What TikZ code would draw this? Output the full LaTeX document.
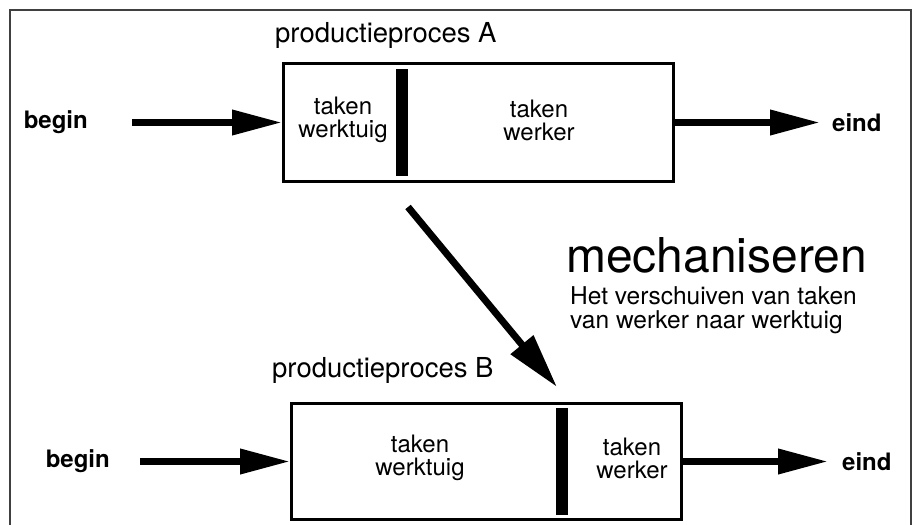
\documentclass[tikz,border=0pt]{standalone}
\usepackage{fontspec}
\setmainfont{TeX Gyre Heros}
\usetikzlibrary{arrows.meta,positioning}

\tikzset{
  procbox/.style={draw, line width=3pt, minimum width=390pt, minimum height=118pt, inner sep=0pt},
  divider/.style={fill=black, minimum width=12pt, minimum height=107pt, inner sep=0pt},
  tasks/.style={align=center, inner sep=0pt, font=\fontsize{24}{23}\selectfont},
  endpoint/.style={inner sep=0pt, font=\bfseries\fontsize{24}{28}\selectfont},
  title/.style={inner sep=0pt, anchor=base west, font=\fontsize{27.5}{32}\selectfont},
  flow/.style={line width=7pt, -{Triangle[length=50pt,width=24pt]}},
  frame/.style={line width=1.2pt, black!75},
}

\begin{document}
\begin{tikzpicture}[x=1pt, y=-1pt]
\useasboundingbox (0,0) rectangle (914,525);
\draw[frame] (10,525) -- (10,10) -- (911,10) -- (911,525);

 % productieproces A
\node (procA) [procbox] at (478.5,122.5) {};
\node (divA) [divider, right=114pt of procA.west] {};
\node (toolA) [tasks] at (343,120) {taken\\werktuig};
\node (workA) [tasks] at (539,120) {taken\\werker};
\node (titleA) [title] at (275,42) {productieproces A};
\node (beginA) [endpoint, anchor=east] at (88,122.5) {begin};
\node (eindA) [endpoint, anchor=west] at (832,122.5) {eind};
\draw[flow, shorten <=44pt] (beginA.east) -- (procA.west);
\draw[flow, shorten >=12pt] (procA.east) -- (eindA.west);

 % productieproces B
\node (procB) [procbox, minimum height=116pt] at (486.5,461.5) {};
\node (divB) [divider, right=266pt of procB.west] {};
\node (toolB) [tasks] at (420,458) {taken\\werktuig};
\node (workB) [tasks] at (632,458) {taken\\werker};
\node (titleB) [title] at (272,377) {productieproces B};
\node (beginB) [endpoint, anchor=east] at (110,461.5) {begin};
\node (eindB) [endpoint, anchor=west] at (842,461.5) {eind};
\draw[flow, shorten <=30pt] (beginB.east) -- (procB.west);
\draw[flow, shorten >=14pt] (procB.east) -- (eindB.west);

 % mechaniseren
\coordinate (shiftfrom) at (408,207);
\coordinate (shiftto) at (557,387);
\draw[flow, -{Triangle[length=55pt,width=28pt]}] (shiftfrom) -- (shiftto);
\node (mech) [inner sep=0pt, anchor=base west, font=\fontsize{48}{50}\selectfont] at (566,272) {mechaniseren};
\node (mechtext) [inner sep=0pt, anchor=north west, align=left, font=\fontsize{24.5}{24.5}\selectfont] at (570,286)
  {Het verschuiven van taken\\van werker naar werktuig};
\end{tikzpicture}
\end{document}
